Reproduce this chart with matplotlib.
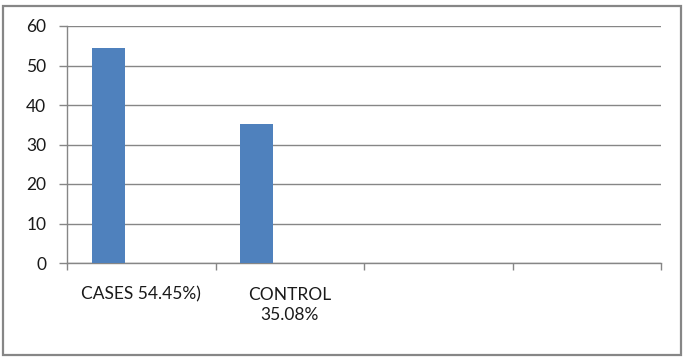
import numpy as np
import matplotlib.pyplot as plt
from matplotlib.patches import Rectangle

# data
categories = ["CASES 54.45%)", "CONTROL\n35.08%", "", ""]
values = [54.45, 35.08, np.nan, np.nan]
y_ticks = [0, 10, 20, 30, 40, 50, 60]

plt.rcParams['font.family'] = ['Lato', 'DejaVu Sans']
grey = '#868686'

W, H = 687, 359
fig = plt.figure(figsize=(W / 100, H / 100), dpi=100)
ax = fig.add_axes([67 / W, (H - 263) / H, (661 - 67) / W, (263 - 26) / H])

# clustered layout with 3 series, only the first one holds values (gap 150%)
w = 1 / 4.5
x = np.arange(len(categories))
ax.bar(x - w, values, width=w, color='#4F81BD', zorder=3)

ax.set_xlim(-0.5, len(categories) - 0.5)
ax.set_ylim(0, 60)
ax.set_yticks(y_ticks)
ax.yaxis.grid(True, color=grey, linewidth=1)
ax.set_axisbelow(True)

ax.set_xticks(x)
ax.set_xticklabels(categories, fontsize=12.5, linespacing=1.3, color='#1a1a1a')
ax.set_xticks(np.arange(len(categories) + 1) - 0.5, minor=True)
ax.tick_params(axis='x', which='major', length=0, pad=17)
ax.tick_params(axis='x', which='minor', length=5, color=grey, width=1)
ax.tick_params(axis='y', length=6, color=grey, width=1, labelsize=12.5,
               labelcolor='#1a1a1a', pad=9)

for s in ['top', 'right']:
    ax.spines[s].set_visible(False)
for s in ['left', 'bottom']:
    ax.spines[s].set_color(grey)
    ax.spines[s].set_linewidth(1)

# outer chart frame
fig.patches.append(Rectangle((3 / W, 4 / H), (681 - 3) / W, (355 - 6) / H,
                             transform=fig.transFigure, fill=False,
                             edgecolor=grey, linewidth=1.6))

fig.savefig('out.png', dpi=100)
